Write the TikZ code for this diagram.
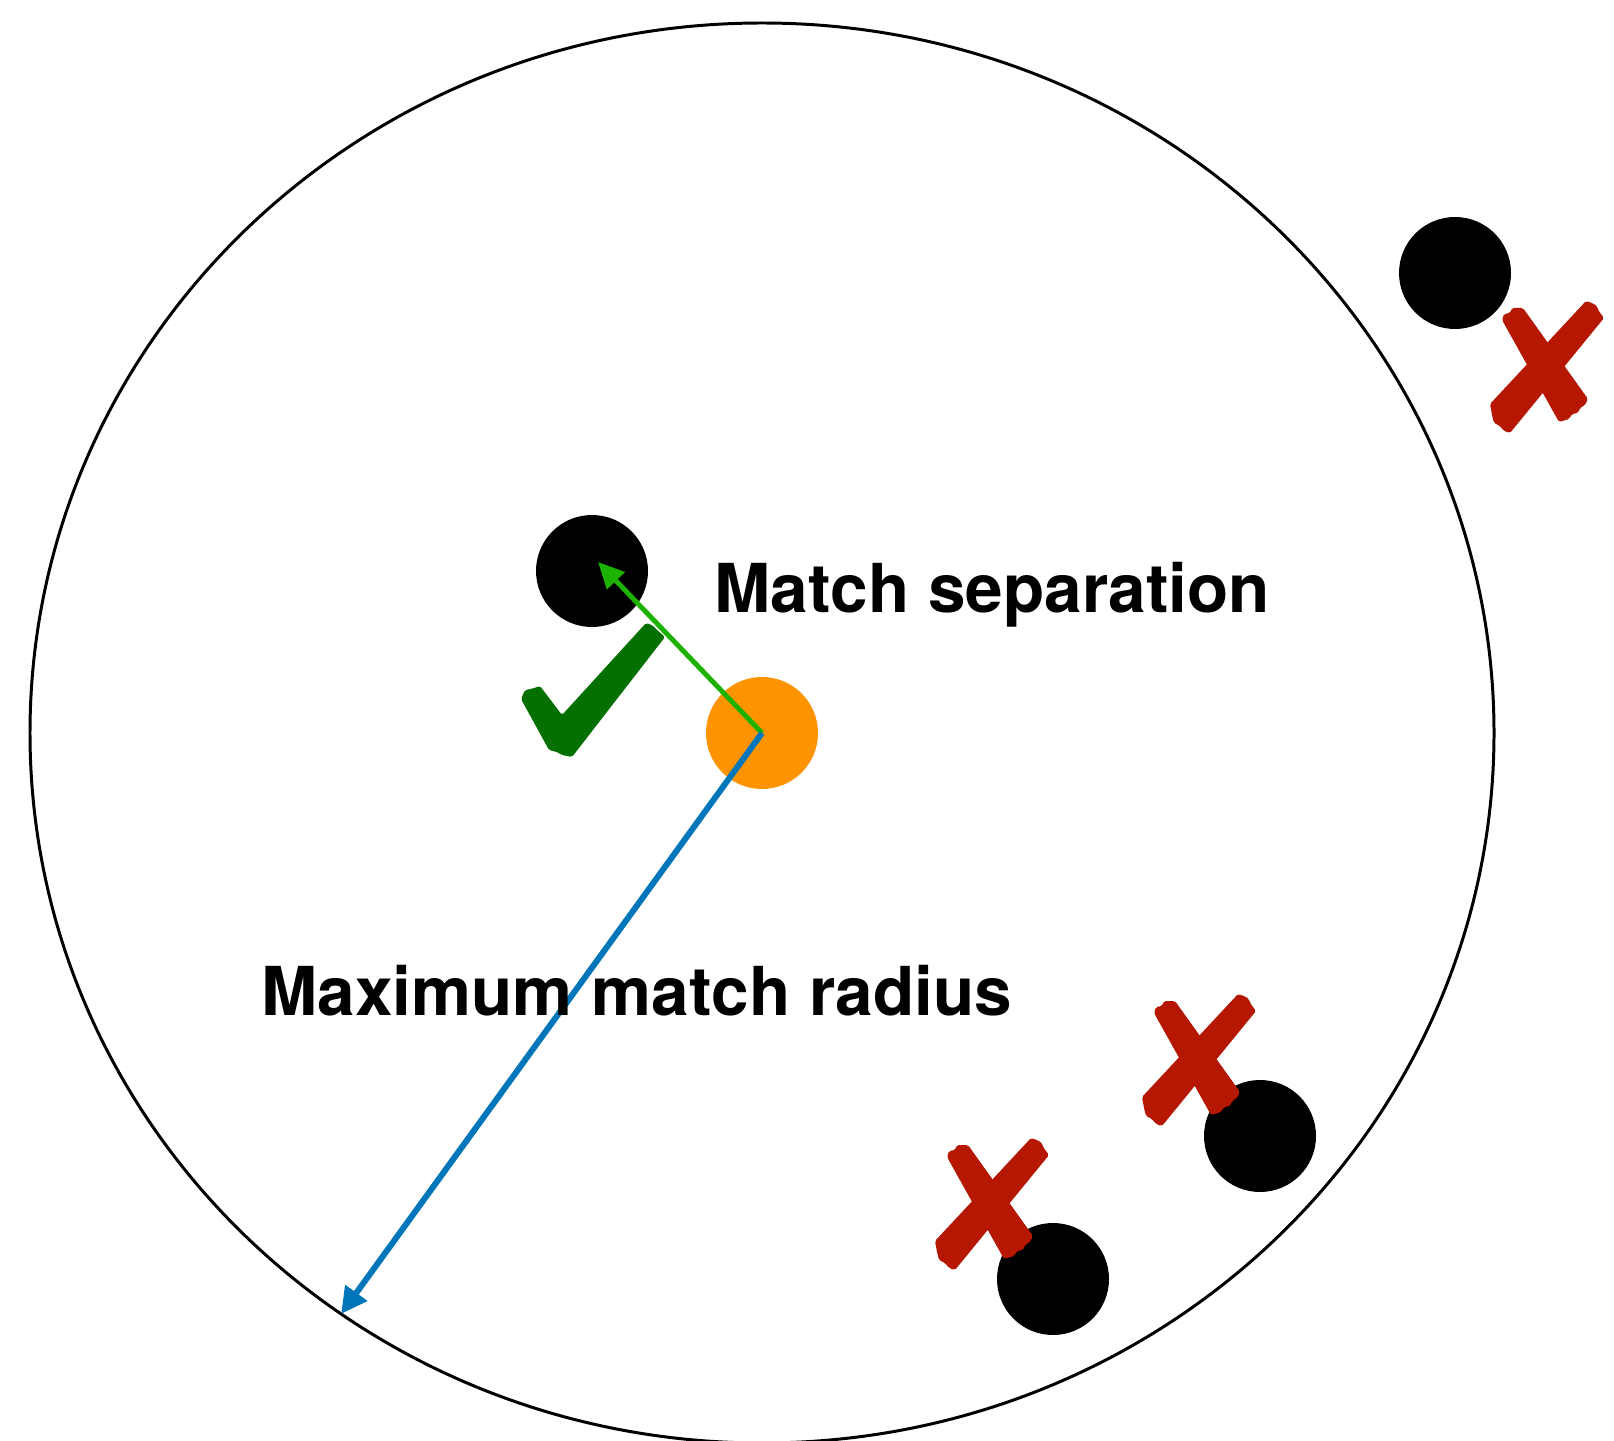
\documentclass[tikz,border=0pt]{standalone}
\usepackage{fontspec}
\setmainfont{TeX Gyre Heros}
\usepackage{tikz}
\usetikzlibrary{arrows.meta}

\definecolor{queryorange}{RGB}{255,147,0}
\definecolor{sepgreen}{RGB}{29,177,0}
\definecolor{radblue}{RGB}{0,118,186}
\definecolor{okgreen}{RGB}{4,112,0}
\definecolor{nored}{RGB}{181,23,0}

\begin{document}
\begin{tikzpicture}[scale=1,
  dot/.style={circle, fill=black, inner sep=0pt, minimum size=1.12cm},
  sepline/.style={sepgreen, line width=1.4pt, -{Triangle[length=0.26cm,width=0.24cm]}},
  radline/.style={radblue, line width=1.7pt, -{Triangle[length=0.26cm,width=0.26cm]}},
  annot/.style={anchor=base west, inner sep=0pt, font=\bfseries\fontsize{19.2}{23}\selectfont}]
\useasboundingbox (0,0) rectangle (16.14,-14.41);
\clip (0,0) rectangle (16.14,-14.41);
\draw[line width=0.85pt] (7.62,-7.33) ellipse (7.32cm and 7.10cm);
\node[dot, fill=queryorange] (query) at (7.62,-7.33) {};
\node[dot] (near) at (5.92,-5.71) {};
\node[dot] (far) at (14.55,-2.73) {};
\node[dot] (low1) at (12.60,-11.36) {};
\node[dot] (low2) at (10.53,-12.79) {};
\coordinate (sepend) at (5.98,-5.62);
\path (query.center) ++(234.9:7.32cm and 7.10cm) coordinate (rim);
\draw[sepline] (query.center) -- (sepend);
\draw[radline] (query.center) -- (rim);
% check mark
\fill[okgreen, rounded corners=0.5pt] (5.21,-6.99) -- (5.25,-6.90) -- (5.31,-6.89) -- (5.40,-6.86) -- (5.62,-7.15) -- (6.46,-6.23) -- (6.52,-6.25) -- (6.56,-6.29) -- (6.65,-6.37) -- (5.72,-7.57) -- (5.62,-7.55) -- (5.57,-7.52) -- (5.49,-7.50) -- cycle;
% crosses
\foreach \x/\y in {9.90/-12.03, 11.97/-10.59, 15.45/-3.66} {
  \begin{scope}[shift={(\x,\y)}]
  \fill[nored, rounded corners=0.5pt] (-0.43,0.46) -- (-0.41,0.52) -- (-0.35,0.53) -- (-0.33,0.58) -- (-0.22,0.58) -- (0.43,-0.33) -- (0.40,-0.39) -- (0.35,-0.42) -- (0.33,-0.47) -- (0.27,-0.48) -- (0.24,-0.53) -- (0.14,-0.56) -- cycle;
  \fill[nored, rounded corners=0.5pt] (-0.55,-0.38) -- (0.41,0.65) -- (0.47,0.63) -- (0.52,0.60) -- (0.53,0.56) -- (0.59,0.48) -- (-0.35,-0.67) -- (-0.41,-0.65) -- (-0.45,-0.60) -- (-0.51,-0.57) -- (-0.53,-0.49) -- cycle;
  \end{scope}
}
\node[annot] (septext) at (7.14,-6.12) {Match separation};
\node[annot] (radtext) at (2.61,-10.15) {Maximum match radius};
\end{tikzpicture}
\end{document}
